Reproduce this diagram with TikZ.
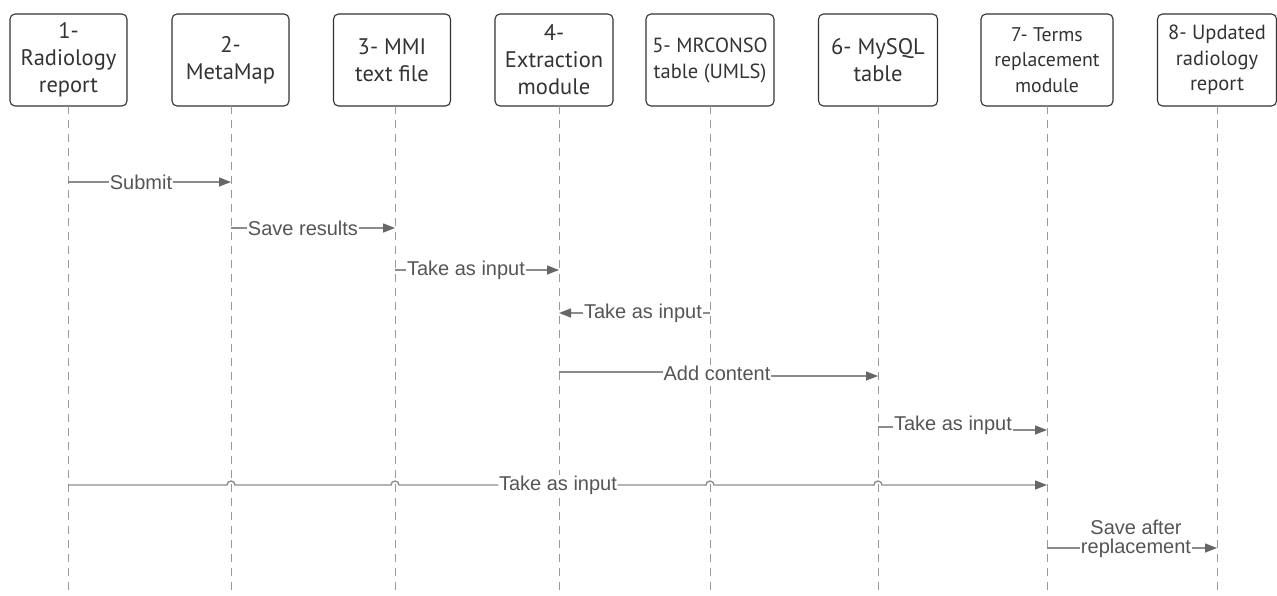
\documentclass[tikz,border=0pt]{standalone}
\usepackage{fontspec}
\setmainfont{PT Sans}
\newfontfamily\lblfont{Liberation Sans}
\usetikzlibrary{arrows.meta}
\definecolor{boxc}{HTML}{333333}
\definecolor{lifec}{HTML}{9A9A9A}
\definecolor{msgc}{HTML}{8C8C8C}
\definecolor{arrc}{HTML}{666666}
\definecolor{lblc}{HTML}{555555}
\begin{document}
\begin{tikzpicture}[x=1pt,y=-1pt,
  actor/.style={draw=boxc, line width=1.1pt, rounded corners=5pt, minimum height=92pt,
    inner sep=0pt, align=center, font=\fontsize{22.5}{27}\selectfont, text=boxc},
  life/.style={draw=lifec, line width=0.9pt, dash pattern=on 8pt off 6pt},
  msg/.style={draw=msgc, line width=1.4pt},
  arr/.style={msg, -{Triangle[length=12pt,width=9pt,color=arrc]}},
  lbl/.style={font=\lblfont\fontsize{20}{19}\selectfont, text=lblc, fill=white, inner sep=0.5pt}]
\useasboundingbox (0,0) rectangle (1277,595);

% actors
\node[actor, minimum width=117pt] (a1) at (68.5,60) {1-\\Radiology\\report};
\node[actor, minimum width=117pt] (a2) at (230.5,60) {2-\\MetaMap};
\node[actor, minimum width=117pt] (a3) at (392,60) {3- MMI\\text file};
\node[actor, minimum width=118pt] (a4) at (554,60) {4-\\Extraction\\module};
\node[actor, minimum width=128pt, font=\fontsize{20.5}{26}\selectfont] (a5) at (710,60) {5- MRCONSO\\table (UMLS)};
\node[actor, minimum width=119pt] (a6) at (878,60) {6- MySQL\\table};
\node[actor, minimum width=132pt, font=\fontsize{19.8}{25.5}\selectfont] (a7) at (1047,60) {7- Terms\\replacement\\module};
\node[actor, minimum width=119pt, font=\fontsize{20.5}{25.5}\selectfont] (a8) at (1217,60) {8- Updated\\radiology\\report};

% lifeline ends
\foreach \i/\x in {1/68,2/231,3/395,4/559,5/710,6/878,7/1047,8/1217}{
  \coordinate (t\i) at (\x,106);
  \coordinate (b\i) at (\x,595);
}
\foreach \i in {1,...,8}{ \draw[life] (t\i) -- (b\i); }

% message 1: Submit
\coordinate (s1) at (68,182); \coordinate (e1) at (231,182);
\node[lbl] (m1) at (141,182) {Submit};
\draw[msg] (s1) -- (s1 -| m1.west);
\draw[arr] (e1 -| m1.east) -- (e1);

% message 2: Save results
\coordinate (s2) at (231,228); \coordinate (e2) at (395,228);
\node[lbl] (m2) at (303,228) {Save results};
\draw[msg] (s2) -- (s2 -| m2.west);
\draw[arr] (e2 -| m2.east) -- (e2);

% message 3: Take as input 3->4
\coordinate (s3) at (395,270); \coordinate (e3) at (559,270);
\node[lbl] (m3) at (466,270) {Take as input};
\draw[msg] (s3) -- (s3 -| m3.west);
\draw[arr] (e3 -| m3.east) -- (e3);

% message 4: Take as input 5->4
\coordinate (s4) at (710,313); \coordinate (e4) at (559,313);
\node[lbl] (m4) at (643,313) {Take as input};
\draw[msg] (s4) -- (s4 -| m4.east);
\draw[arr] (e4 -| m4.west) -- (e4);

% message 5: Add content 4->6
\coordinate (s5) at (559,372); \coordinate (e5) at (878,376);
\node[lbl] (m5) at (717,373) {Add content};
\draw[msg] (s5) -- (s5 -| m5.west);
\draw[arr] (e5 -| m5.east) -- (e5);

% message 6: Take as input 6->7
\coordinate (s6) at (878,427); \coordinate (e6) at (1047,430);
\node[lbl] (m6) at (953,425) {Take as input};
\draw[msg] (s6) -- (s6 -| m6.west);
\draw[arr] (e6 -| m6.east) -- (e6);

% message 7: Take as input 1->7 with line hops
\coordinate (s7) at (68,485); \coordinate (e7) at (1047,485);
\node[lbl] (m7) at (558,485) {Take as input};
\draw[msg] (s7) -- ++(159,0) arc[start angle=180,end angle=360,radius=4]
  -- ++(156,0) arc[start angle=180,end angle=360,radius=4] -- (s7 -| m7.west);
\draw[arr] (e7 -| m7.east) -- (706,485) arc[start angle=180,end angle=360,radius=4]
  -- ++(160,0) arc[start angle=180,end angle=360,radius=4] -- (e7);

% message 8: Save after replacement 7->8
\coordinate (s8) at (1047,548); \coordinate (e8) at (1217,548);
\node[lbl, align=center] (m8) at (1136,538.5) {Save after\\replacement};
\draw[msg] (s8) -- (s8 -| m8.west);
\draw[arr] (e8 -| m8.east) -- (e8);
\end{tikzpicture}
\end{document}
